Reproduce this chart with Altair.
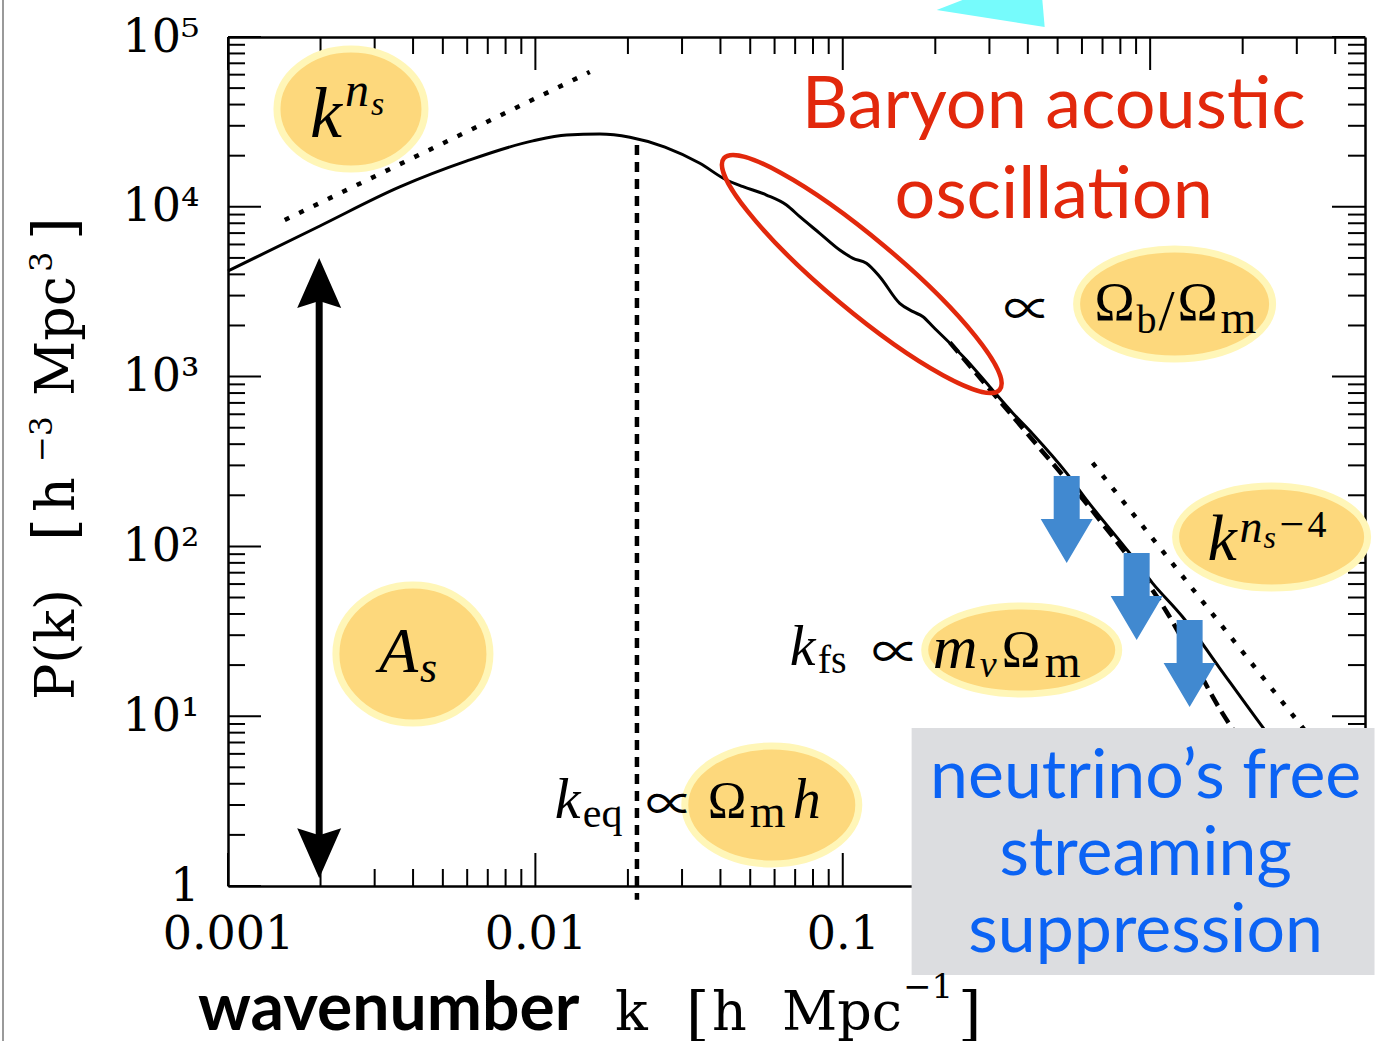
import altair as alt
import pandas as pd

# ------------------------------------------------------------------ data
# linear matter power spectrum P(k)
curve_k = [0.001, 0.00199, 0.00362, 0.00599, 0.00981, 0.01265, 0.0162, 0.0203, 0.0264,
           0.03428, 0.04184, 0.0474, 0.05647, 0.0656, 0.07248, 0.08417, 0.09777, 0.108,
           0.1194, 0.1319, 0.1532, 0.1693, 0.1824, 0.1967, 0.2525, 0.3006, 0.3571, 0.415,
           0.535, 0.6211, 0.857, 1.018, 1.276, 1.683, 2.32, 3.06, 4.13]
curve_P = [4188, 7710, 13090, 18620, 24450, 26480, 26840, 25700, 22480,
           18040, 14380, 13140, 11735, 10247, 8746, 6982, 5567, 4974,
           4649, 3876, 2703, 2412, 2253, 1967, 1252, 872, 611, 459,
           270, 188, 91.4, 60.8, 38.4, 19.2, 8.64, 4.44, 2.17]

# suppressed spectrum (dashed)
supp_k = [0.223, 0.415, 0.6855, 1.132, 1.708, 2.305]
supp_P = [1590, 423, 143, 41.1, 10.6, 4.82]

# power-law guides (dotted)
ns_k = [0.00153, 0.01503]
ns_P = [8360, 62200]
ns4_k = [0.650, 4.13]
ns4_P = [310, 4.57]

# k_eq vertical marker
keq_k = [0.0214]
keq_P_top = [23100]
keq_P_bot = [0.83]

# amplitude double arrow
As_k = [0.00198]
As_tip_top = [4990]
As_tip_bot = [1.11]
As_shaft_top = [3236]
As_shaft_bot = [1.63]

# neutrino suppression arrows (tips)
nu_k = [0.5352, 0.9039, 1.344]
nu_P = [79.86, 28.11, 11.33]

# axis ticks
x_tick_values = [0.001, 0.01, 0.1]
x_tick_labels = ["0.001", "0.01", "0.1"]
y_tick_values = [1, 10, 100, 1000, 10000, 100000]
y_tick_labels = ["1", "10¹", "10²", "10³", "10⁴", "10⁵"]
x_major = [0.001, 0.01, 0.1, 1]
x_minor = [m * 10.0 ** e for e in range(-3, 1) for m in range(2, 10) if m * 10.0 ** e < 5]
y_major = y_tick_values
y_minor = [m * 10.0 ** e for e in range(0, 5) for m in range(2, 10)]

# annotation anchors (data coordinates)
ell_k = [0.002512, 1.201, 2.484, 0.3821, 0.05876, 0.003996]
ell_P = [37670, 2677, 113.6, 24.54, 3.0, 23.25]
bao_center = (0.1153, 4020)
bao_title_k = 0.4856
bao_title_P = [29110, 8590]
bao_title = ["Baryon acoustic", "oscillation"]
box_k = [0.1675]
box_k2 = [5.37]
box_P = [8.52]
box_P2 = [0.299]
box_text_k = 0.9669
box_text_P = [3.298, 1.161, 0.4087]
box_text = ["neutrino’s free", "streaming", "suppression"]
cyan_anchor = (0.3006, 144200)

# ------------------------------------------------------------------ styles
W, H = 1137, 849
ELL_RADII = [(74, 60), (98, 55), (96, 51), (97, 44), (87, 59), (77, 69)]
YELLOW_FILL = "#fdd87c"
YELLOW_EDGE = "#fff6b8"
RED = "#e2280c"
BLUE_TXT = "#0b63f4"
BLUE_ARROW = "#4189d0"
FONTS = {"it": ("Liberation Serif", "italic"),
         "rm": ("Liberation Serif", "normal"),
         "op": ("Noto Sans CJK JP", "normal")}

xscale = alt.Scale(type="log", domain=[0.001, 5], nice=False)
yscale = alt.Scale(type="log", domain=[1, 100000], nice=False)


def X(f="k"):
    return alt.X(f"{f}:Q", scale=xscale, axis=None)


def Y(f="P"):
    return alt.Y(f"{f}:Q", scale=yscale, axis=None)


def label_expr(values, labels):
    expr = f"'{labels[-1]}'"
    for v, l in reversed(list(zip(values[:-1], labels[:-1]))):
        expr = f"abs(datum.value - {v}) < {v * 1e-3} ? '{l}' : {expr}"
    return expr


def ellipse_path(rx, ry):
    c = 0.5523
    return (f"M {-rx} 0 C {-rx} {-c * ry:.2f} {-c * rx:.2f} {-ry} 0 {-ry} "
            f"C {c * rx:.2f} {-ry} {rx} {-c * ry:.2f} {rx} 0 "
            f"C {rx} {c * ry:.2f} {c * rx:.2f} {ry} 0 {ry} "
            f"C {-c * rx:.2f} {ry} {-rx} {c * ry:.2f} {-rx} 0 Z")


ARROW = "M 0 0 L -26 -44 L -13 -44 L -13 -87 L 13 -87 L 13 -44 L 26 -44 Z"
HEAD = "M 0 0 L 22 50 L 0 43 L -22 50 Z"
CYAN = "M -53 0 L 55 17 L 50 -40 Z"

layers = []

# ------------------------------------------------------------------ main curve + axes
curve_df = pd.DataFrame({"k": curve_k, "P": curve_P})
axis_common = dict(ticks=False, grid=False, domain=True, domainColor="black", domainWidth=2.5,
                   labelFont="DejaVu Serif", labelFontSize=46, labelColor="black",
                   labelFlush=False, labelOverlap=False, title=None)
layers.append(
    alt.Chart(curve_df).mark_line(color="black", strokeWidth=3, interpolate="monotone").encode(
        x=alt.X("k:Q", scale=xscale, axis=alt.Axis(
            orient="bottom", values=x_tick_values, labelExpr=label_expr(x_tick_values, x_tick_labels),
            labelPadding=26, labelBaseline="top", **axis_common)),
        y=alt.Y("P:Q", scale=yscale, axis=alt.Axis(
            orient="left", values=y_tick_values, labelExpr=label_expr(y_tick_values, y_tick_labels),
            labelPadding=29, **axis_common)),
    )
)
# frame on top/right via second axes
layers.append(
    alt.Chart(curve_df).mark_line(opacity=0).encode(
        x=alt.X("k:Q", scale=xscale, axis=alt.Axis(orient="top", labels=False, ticks=False, grid=False,
                                                   domainColor="black", domainWidth=2.5, title=None)),
        y=alt.Y("P:Q", scale=yscale, axis=alt.Axis(orient="right", labels=False, ticks=False, grid=False,
                                                   domainColor="black", domainWidth=2.5, title=None)),
    )
)

# ------------------------------------------------------------------ ticks (inside)
def tick_layer(values, side, length):
    df = pd.DataFrame({"v": values})
    m = alt.Chart(df).mark_rule(color="black", strokeWidth=2)
    if side == "bottom":
        return m.encode(x=X("v"), y=alt.value(H), y2=alt.value(H - length))
    if side == "top":
        return m.encode(x=X("v"), y=alt.value(0), y2=alt.value(length))
    if side == "left":
        return m.encode(y=Y("v"), x=alt.value(0), x2=alt.value(length))
    return m.encode(y=Y("v"), x=alt.value(W), x2=alt.value(W - length))


for side in ["bottom", "top"]:
    layers.append(tick_layer(x_major, side, 33))
    layers.append(tick_layer(x_minor, side, 17))
for side in ["left", "right"]:
    layers.append(tick_layer(y_major, side, 33))
    layers.append(tick_layer(y_minor, side, 17))

# ------------------------------------------------------------------ guide lines
layers.append(
    alt.Chart(pd.DataFrame({"k": keq_k, "P": keq_P_top, "P2": keq_P_bot})).mark_rule(
        color="black", strokeWidth=4.5, strokeDash=[10, 7]).encode(x=X(), y=Y(), y2="P2:Q")
)
layers.append(
    alt.Chart(pd.DataFrame({"k": ns_k, "P": ns_P})).mark_line(
        color="black", strokeWidth=4.5, strokeDash=[5, 11]).encode(x=X(), y=Y())
)
layers.append(
    alt.Chart(pd.DataFrame({"k": ns4_k, "P": ns4_P})).mark_line(
        color="black", strokeWidth=4.5, strokeDash=[5, 11]).encode(x=X(), y=Y())
)
layers.append(
    alt.Chart(pd.DataFrame({"k": supp_k, "P": supp_P})).mark_line(
        color="black", strokeWidth=4.5, strokeDash=[13, 7], interpolate="monotone").encode(x=X(), y=Y())
)

# ------------------------------------------------------------------ yellow ellipses
for (kk, pp), (rx, ry) in zip(zip(ell_k, ell_P), ELL_RADII):
    layers.append(
        alt.Chart(pd.DataFrame({"k": [kk], "P": [pp]})).mark_point(
            shape=ellipse_path(rx, ry), size=4, filled=True, fill=YELLOW_FILL,
            stroke=YELLOW_EDGE, strokeWidth=7, opacity=1).encode(x=X(), y=Y())
    )

# ------------------------------------------------------------------ math text
math_groups = [
    (0, [("k", -41, 28, 72, "it"), ("n", -6, -3, 48, "it"), ("s", 20, 6, 34, "it")]),
    (1, [("∝", -171, 8, 48, "op"), ("Ω", -80, 16, 54, "rm"), ("b", -38, 29, 40, "rm"),
         ("/", -16, 26, 58, "rm"), ("Ω", 3, 16, 54, "rm"), ("m", 46, 29, 46, "rm")]),
    (2, [("k", -64, 23, 66, "it"), ("n", -32, 5, 46, "it"), ("s", -8, 11, 32, "it"),
         ("−", 8, 2, 44, "rm"), ("4", 36, 0, 38, "rm")]),
    (3, [("k", -232, 15, 58, "it"), ("fs", -204, 23, 40, "rm"), ("∝", -150, 5, 48, "op"),
         ("m", -89, 18, 62, "it"), ("ν", -42, 27, 38, "it"), ("Ω", -20, 17, 52, "rm"),
         ("m", 23, 27, 46, "rm")]),
    (4, [("k", -217, 13, 58, "it"), ("eq", -189, 22, 42, "rm"), ("∝", -126, 2, 48, "op"),
         ("Ω", -64, 13, 52, "rm"), ("m", -22, 22, 46, "rm"), ("h", 21, 13, 56, "it")]),
    (5, [("A", -34, 18, 64, "it"), ("s", 7, 28, 44, "it")]),
]
for idx, pieces in math_groups:
    adf = pd.DataFrame({"k": [ell_k[idx]], "P": [ell_P[idx]]})
    for txt, dx, dy, fs, kind in pieces:
        font, style = FONTS[kind]
        layers.append(
            alt.Chart(adf).mark_text(
                text=txt, dx=dx, dy=dy, fontSize=fs, font=font, fontStyle=style, color="black",
                align="left", baseline="middle" if kind == "op" else "alphabetic").encode(x=X(), y=Y())
        )

# ------------------------------------------------------------------ BAO ellipse & title
layers.append(
    alt.Chart(pd.DataFrame({"k": [bao_center[0]], "P": [bao_center[1]]})).mark_point(
        shape=ellipse_path(180, 36), size=4, angle=40, filled=False, color=RED,
        strokeWidth=4.5, opacity=1).encode(x=X(), y=Y())
)
layers.append(
    alt.Chart(pd.DataFrame({"k": [bao_title_k] * 2, "P": bao_title_P, "t": bao_title})).mark_text(
        font="Lato", fontSize=72, color=RED, align="center", baseline="alphabetic").encode(
        x=X(), y=Y(), text="t:N")
)

# ------------------------------------------------------------------ arrows
layers.append(
    alt.Chart(pd.DataFrame({"k": nu_k, "P": nu_P})).mark_point(
        shape=ARROW, size=4, filled=True, color=BLUE_ARROW, opacity=1).encode(x=X(), y=Y())
)
layers.append(
    alt.Chart(pd.DataFrame({"k": As_k, "P": As_shaft_top, "P2": As_shaft_bot})).mark_rule(
        color="black", strokeWidth=7).encode(x=X(), y=Y(), y2="P2:Q")
)
layers.append(
    alt.Chart(pd.DataFrame({"k": As_k, "P": As_tip_top})).mark_point(
        shape=HEAD, size=4, filled=True, color="black", opacity=1).encode(x=X(), y=Y())
)
layers.append(
    alt.Chart(pd.DataFrame({"k": As_k, "P": As_tip_bot})).mark_point(
        shape=HEAD, size=4, angle=180, filled=True, color="black", opacity=1).encode(x=X(), y=Y())
)

# ------------------------------------------------------------------ neutrino box
layers.append(
    alt.Chart(pd.DataFrame({"k": box_k, "k2": box_k2, "P": box_P, "P2": box_P2})).mark_rect(
        color="#dcdde0").encode(x=X(), x2="k2:Q", y=Y(), y2="P2:Q")
)
layers.append(
    alt.Chart(pd.DataFrame({"k": [box_text_k] * 3, "P": box_text_P, "t": box_text})).mark_text(
        font="Lato", fontSize=68, color=BLUE_TXT, align="center", baseline="alphabetic").encode(
        x=X(), y=Y(), text="t:N")
)

# ------------------------------------------------------------------ cyan shape at top
layers.append(
    alt.Chart(pd.DataFrame({"k": [cyan_anchor[0]], "P": [cyan_anchor[1]]})).mark_point(
        shape=CYAN, size=4, filled=True, color="#76fbfc", opacity=1).encode(x=X(), y=Y())
)

# ------------------------------------------------------------------ axis titles
origin = pd.DataFrame({"k": [0.001], "P": [1]})
layers.append(
    alt.Chart(origin).mark_rule(color="#9a9a9a", strokeWidth=2).encode(
        x=alt.value(-225), y=alt.value(-37), y2=alt.value(1004))
)
xtitle = [("wavenumber", -30, 144, 66, "Lato", "bold"),
          ("k", 387, 144, 54, "DejaVu Serif", "normal"),
          ("[", 458, 148, 60, "DejaVu Serif", "normal"),
          ("h", 484, 144, 54, "DejaVu Serif", "normal"),
          ("Mpc", 554, 144, 54, "DejaVu Serif", "normal"),
          ("−1", 675, 112, 34, "DejaVu Serif", "normal"),
          ("]", 730, 148, 60, "DejaVu Serif", "normal")]
for txt, dx, dy, fs, font, weight in xtitle:
    layers.append(
        alt.Chart(origin).mark_text(text=txt, dx=dx, dy=dy, fontSize=fs, font=font, fontWeight=weight,
                                    color="black", align="left", baseline="alphabetic").encode(x=X(), y=Y())
    )
ytitle = [("P(k)", 186, -154, 54), ("[", 345, -154, 58), ("h", 374, -154, 54),
          ("−3", 424, -176, 31), ("Mpc", 490, -154, 54), ("3", 614, -176, 32), ("]", 646, -154, 58)]
for txt, dx, dy, fs in ytitle:
    layers.append(
        alt.Chart(origin).mark_text(text=txt, dx=dx, dy=dy, fontSize=fs, font="DejaVu Serif", angle=270,
                                    color="black", align="left", baseline="alphabetic").encode(x=X(), y=Y())
    )

chart = alt.layer(*layers).properties(
    width=W, height=H,
    padding={"left": 228, "top": 37, "right": 10, "bottom": 155},
    autosize=alt.AutoSizeParams(type="none"),
).configure_view(stroke=None).configure(background="white")

chart.save("out.html", embed_options={"renderer": "svg", "actions": False})
